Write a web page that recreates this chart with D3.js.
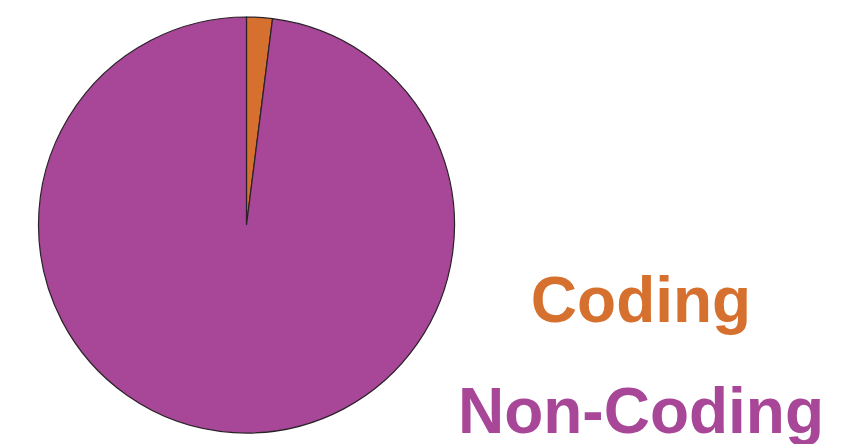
<!DOCTYPE html>
<html>
<head>
<meta charset="utf-8">
<script src="https://cdn.jsdelivr.net/npm/d3@7"></script>
<style>
	html, body { margin: 0; padding: 0; background: #fff; }
	svg { display: block; }
</style>
</head>
<body>
<svg id="chart" width="866" height="444"></svg>
<script>
// share of the genome
const categories = ["Coding", "Non-Coding"];
const shares = [2, 98];
const colours = ["#D6702E", "#A84698"];

const svg = d3.select("#chart");
const cx = 246.5, cy = 225, radius = 208;

const pie = d3.pie().sort(null).value(d => d.value);
const arc = d3.arc().innerRadius(0).outerRadius(radius);
const colour = d3.scaleOrdinal().domain(categories).range(colours);

const slices = pie(categories.map((c, i) => ({name: c, value: shares[i]})));

svg.append("g")
	.attr("transform", "translate(" + cx + "," + cy + ")")
	.selectAll("path")
	.data(slices)
	.enter()
	.append("path")
		.attr("d", arc)
		.attr("fill", d => colour(d.data.name))
		.attr("stroke", "#2a2228")
		.attr("stroke-width", 1.2);

// legend, stacked text labels
const labelY = d3.scalePoint().domain(categories).range([322, 433]);

svg.append("g")
	.selectAll("text")
	.data(categories)
	.enter()
	.append("text")
		.attr("x", 641)
		.attr("y", d => labelY(d))
		.attr("text-anchor", "middle")
		.attr("font-family", "Liberation Sans, Arial, sans-serif")
		.attr("font-weight", "bold")
		.attr("font-size", "64px")
		.attr("fill", d => colour(d))
		.text(d => d);
</script>
</body>
</html>
